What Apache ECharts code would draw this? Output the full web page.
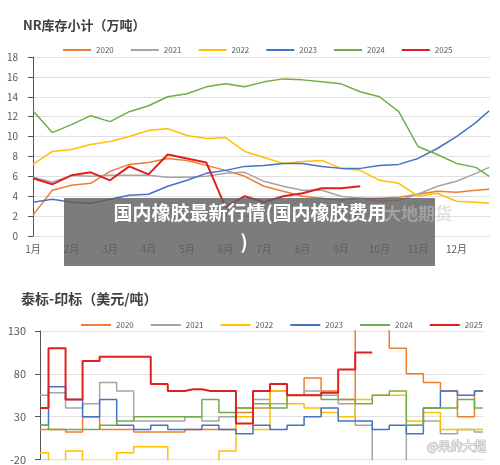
<!DOCTYPE html>
<html><head><meta charset="utf-8">
<script src="https://cdn.jsdelivr.net/npm/echarts@6/dist/echarts.min.js"></script>
<style>html,body{margin:0;padding:0;background:#fff}#c{width:500px;height:465px}</style>
</head><body><div id="c"></div>
<script>
const years = ['2020','2021','2022','2023','2024','2025'];
const colors = ['#ED7D31','#A5A5A5','#FFC000','#4472C4','#70AD47','#E02020'];
const monthLabels = ['1月','2月','3月','4月','5月','6月','7月','8月','9月','10月','11月','12月'];
// top chart: half-month sample positions (month units)
const topX = [1,1.5,2,2.5,3,3.5,4,4.5,5,5.5,6,6.5,7,7.5,8,8.5,9,9.5,10,10.5,11,11.5,12,12.5,12.85];
const nr2020 = [2.1,4.6,5.1,5.3,6.5,7.2,7.4,7.8,7.6,7.1,6.6,6.0,5.0,4.5,4.0,3.8,3.6,3.8,3.8,3.9,4.2,4.5,4.4,4.6,4.7];
const nr2021 = [5.9,5.4,6.1,6.0,6.1,6.1,6.1,5.9,5.9,6.0,6.3,6.4,5.5,5.0,4.6,4.6,4.0,3.8,3.5,3.6,4.2,5.0,5.5,6.3,6.9];
const nr2022 = [7.2,8.5,8.7,9.2,9.5,10.0,10.6,10.8,10.1,9.8,9.9,8.5,7.9,7.3,7.5,7.6,6.8,6.6,5.6,5.3,4.0,4.3,3.5,3.4,3.3];
const nr2023 = [3.4,3.7,3.4,3.3,3.7,4.1,4.2,5.0,5.6,6.3,6.6,7.0,7.1,7.3,7.3,7.0,6.8,6.8,7.1,7.2,7.8,8.8,10.0,11.4,12.6];
const nr2024 = [12.6,10.4,11.2,12.1,11.5,12.5,13.1,14.0,14.3,15.0,15.3,15.0,15.5,15.8,15.7,15.5,15.3,14.5,14.0,12.5,9.0,8.2,7.3,6.9,6.0];
const nr2025 = [5.8,5.2,6.1,6.4,5.6,7.0,6.2,8.2,7.8,7.4,2.9,4.0,3.4,4.0,4.3,4.8,4.8,5.0,null,null,null,null,null,null,null];
// bottom chart: biweekly samples
const botX = [0,1,2,3,4,5,6,7,8,9,10,11,12,13,14,15,16,17,18,19,20,21,22,23,24,25,26];
const sp2020 = [15,15,12,30,15,15,12,12,12,15,15,15,35,40,60,55,75,60,50,145,150,110,80,70,60,30,60];
const sp2021 = [55,58,40,45,70,60,25,25,25,30,25,30,40,50,45,55,60,55,45,20,-25,-25,20,25,10,15,12];
const sp2022 = [-12,-22,-10,-22,-22,-12,-5,-5,-25,-25,-25,-10,30,15,60,45,40,35,30,50,55,55,25,35,15,15,15];
const sp2023 = [20,65,50,30,50,20,15,20,15,15,20,15,10,20,15,20,30,40,25,25,15,20,10,40,60,55,60];
const sp2024 = [20,15,15,15,20,25,30,30,30,30,50,35,40,45,40,55,55,50,50,45,55,60,20,40,40,50,40];
const sp2025 = [40,110,50,95,100,100,100,68,60,62,60,60,22,60,68,55,55,58,85,105,null,null,null,null,null,null,null];

const topData = [nr2020,nr2021,nr2022,nr2023,nr2024,nr2025];
const botData = [sp2020,sp2021,sp2022,sp2023,sp2024,sp2025];
const F = '"Noto Sans CJK SC", "Noto Sans", sans-serif';
const series = [];
years.forEach((y,i)=>{
  series.push({name:y,type:'line',xAxisIndex:0,yAxisIndex:0,showSymbol:false,smooth:false,
    lineStyle:{width:i===5?2:1.5,color:colors[i]},itemStyle:{color:colors[i]},
    data:topX.map((x,j)=>[x,topData[i][j]])});
  series.push({name:y,type:'line',xAxisIndex:1,yAxisIndex:1,showSymbol:false,step:'middle',
    lineStyle:{width:i===5?2:1.5,color:colors[i]},itemStyle:{color:colors[i]},
    data:botX.map((x,j)=>[x,botData[i][j]])});
});
const chart = echarts.init(document.getElementById('c'));
chart.setOption({
  animation:false,
  textStyle:{fontFamily:F},
  title:[{text:'NR库存小计（万吨）',left:18,top:14,textStyle:{fontSize:13,fontWeight:'bold',color:'#404040',fontFamily:F}},
         {text:'泰标-印标（美元/吨）',left:16,top:287,textStyle:{fontSize:14,fontWeight:'bold',color:'#404040',fontFamily:F}}],
  legend:[{data:years,top:41,left:58,width:460,itemWidth:28,itemHeight:2,itemGap:17,icon:'rect',textStyle:{fontSize:8,color:'#595959'}},
          {data:years,top:316,left:76,width:460,itemWidth:30,itemHeight:2,itemGap:17,icon:'rect',textStyle:{fontSize:8,color:'#595959'}}],
  grid:[{left:33,right:10,top:57,bottom:229},{left:40,right:17,top:331,bottom:-1}],
  xAxis:[{type:'value',gridIndex:0,min:1,max:12.87,interval:1,axisLine:{show:false},axisTick:{show:false},splitLine:{show:false},
          axisLabel:{fontSize:10,color:'#595959',formatter:v=>monthLabels[Math.round(v)-1]||''}},
         {type:'value',gridIndex:1,min:0,max:26,show:false}],
  yAxis:[{type:'value',gridIndex:0,min:0,max:18,interval:2,axisLabel:{fontSize:10,color:'#595959',margin:15},splitLine:{lineStyle:{color:'#E0E0E0'}}},
         {type:'value',gridIndex:1,min:-20,max:130,interval:50,axisLabel:{fontSize:11,color:'#595959',margin:14},splitLine:{lineStyle:{color:'#E0E0E0'}}}],
  series:series,
  graphic:[
    {type:'rect',shape:{x:64,y:198,width:371,height:68},style:{fill:'rgba(95,95,95,0.82)'},z:100},
    {type:'text',left:384,top:205,style:{text:'大地期货',font:'bold 17px '+F,fill:'rgba(200,200,200,0.5)'},z:101},
    {type:'text',x:250,y:203,style:{text:'国内橡胶最新行情(国内橡胶费用',font:'bold 19px '+F,fill:'#fff',textAlign:'center'},z:102},
    {type:'text',x:244,y:232,style:{text:')',font:'bold 19px '+F,fill:'#fff',textAlign:'center'},z:102},
    {type:'text',x:427,y:440,style:{text:'@果的大超',font:'12px '+F,fill:'rgba(255,255,255,0.85)',stroke:'rgba(120,120,120,0.6)',lineWidth:1},z:102}
  ]
});
</script></body></html>
